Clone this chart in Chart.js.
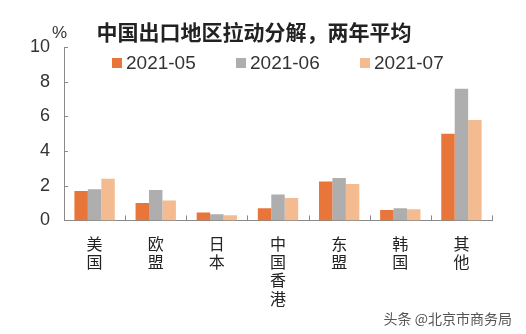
<!DOCTYPE html>
<html>
<head>
<meta charset="utf-8">
<script src="https://cdn.jsdelivr.net/npm/chart.js@4"></script>
<style>
  html, body { margin: 0; padding: 0; background: #fff; }
  #wrap { width: 526px; height: 334px; }
</style>
</head>
<body>
<div id="wrap"><canvas id="chart" width="526" height="334"></canvas></div>
<script>
const categories = [['美', '国'], ['欧', '盟'], ['日', '本'], ['中', '国', '香', '港'], ['东', '盟'], ['韩', '国'], ['其', '他']];
const may = [1.7, 1.0, 0.45, 0.7, 2.25, 0.6, 5.0];
const june = [1.8, 1.75, 0.35, 1.5, 2.45, 0.7, 7.6];
const july = [2.4, 1.15, 0.3, 1.3, 2.1, 0.65, 5.8];
const seriesNames = ['2021-05', '2021-06', '2021-07'];

const CJK = '"Noto Sans CJK SC", "Noto Sans", sans-serif';
const NUM = '"Liberation Sans", Arial, sans-serif';

// legend inside the plot, inward tick marks, unit label and watermark
const extras = {
  id: 'extras',
  afterDraw(chart) {
    const ctx = chart.ctx;
    const x = chart.scales.x, y = chart.scales.y;
    ctx.save();
    ctx.strokeStyle = '#8a8a8a';
    ctx.lineWidth = 1;
    ctx.beginPath();
    for (let v = 0; v <= 10; v += 2) {
      const py = Math.round(y.getPixelForValue(v)) + 0.5;
      ctx.moveTo(x.left, py);
      ctx.lineTo(x.left + 4, py);
    }
    for (let i = 0; i <= categories.length; i++) {
      const px = Math.round(x.left + (x.right - x.left) * i / categories.length) + 0.5;
      ctx.moveTo(px, y.bottom);
      ctx.lineTo(px, y.bottom - 5);
    }
    ctx.stroke();

    // legend row
    ctx.font = '19px ' + NUM;
    ctx.textBaseline = 'middle';
    ctx.textAlign = 'left';
    let lx = 112;
    chart.data.datasets.forEach(ds => {
      ctx.fillStyle = ds.backgroundColor;
      ctx.fillRect(lx, 58, 10, 10);
      ctx.fillStyle = '#333';
      ctx.fillText(ds.label, lx + 14, 64);
      lx += 124;
    });

    ctx.fillStyle = '#333';
    ctx.font = '17px ' + NUM;
    ctx.fillText('%', 52, 33);

    ctx.fillStyle = '#555';
    ctx.font = '14px ' + CJK;
    ctx.textAlign = 'right';
    ctx.fillText('头条 @北京市商务局', 512, 319);
    ctx.restore();
  }
};

new Chart(document.getElementById('chart'), {
  type: 'bar',
  data: {
    labels: categories,
    datasets: [
      { label: seriesNames[0], data: may, backgroundColor: '#E8763A' },
      { label: seriesNames[1], data: june, backgroundColor: '#AEAEAE' },
      { label: seriesNames[2], data: july, backgroundColor: '#F4BA90' }
    ]
  },
  options: {
    responsive: false,
    animation: false,
    layout: { padding: { left: 16, right: 34, top: 0, bottom: 12 } },
    datasets: { bar: { categoryPercentage: 0.66, barPercentage: 1.0 } },
    plugins: {
      title: {
        display: true,
        text: '中国出口地区拉动分解，两年平均',
        color: '#222',
        font: { family: CJK, size: 21, weight: 'bold' },
        padding: { top: 19, bottom: 3 }
      },
      legend: { display: false },
      tooltip: { enabled: false }
    },
    scales: {
      x: {
        grid: { display: false, drawTicks: false },
        border: { color: '#8a8a8a' },
        ticks: {
          color: '#222',
          font: { family: CJK, size: 16, lineHeight: 1.15 },
          maxRotation: 0,
          autoSkip: false,
          padding: 14
        }
      },
      y: {
        min: 0,
        max: 10,
        grid: { display: false, drawTicks: false },
        border: { color: '#8a8a8a' },
        ticks: {
          stepSize: 2,
          autoSkip: false,
          color: '#333',
          font: { family: NUM, size: 18 },
          padding: 14
        }
      }
    }
  },
  plugins: [extras]
});
</script>
</body>
</html>
